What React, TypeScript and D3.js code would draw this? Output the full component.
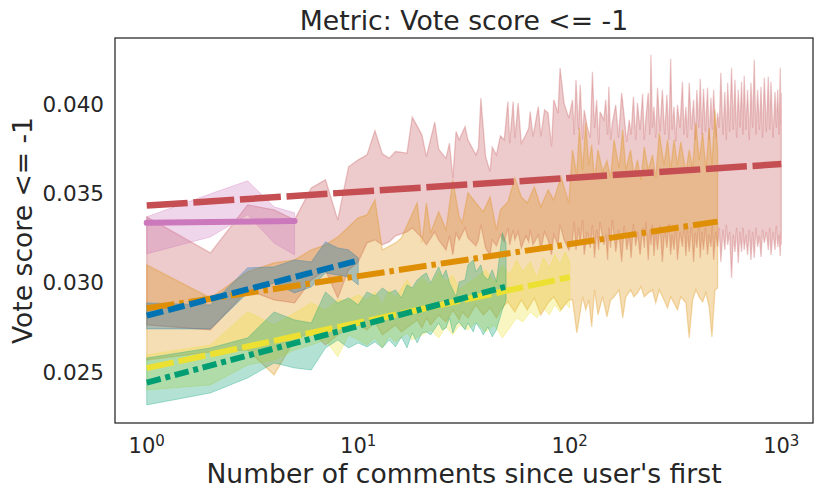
import React from "react";
import * as d3 from "d3";

// ---------- data ----------
const redX = [1,2,3,4,5,6,7,8,9,10,
  11,12,13,14,15,17,18,20,21,23,24,26,27,28,29,30,32,33,36,37,38,40,42,43,45,47,49,51,52,54,55,57,59,62,64,65,67,71,73,76,79,82,84,88,90,94,99,
  103,105,107,110,112,115,117,121,125,128,
  131,134,137,139,145,148,151,153,156,159,
  165,170,176,181,186,191,195,200,205,209,
  215,221,225,229,235,239,242,246,250,255,
  260,267,274,281,288,294,300,305,311,317,
  323,332,341,347,354,360,367,376,385,392,
  399,407,414,421,429,438,448,456,465,472,
  479,490,500,509,518,530,541,550,558,570,
  582,593,604,615,626,637,649,658,668,680,
  693,706,719,732,745,759,773,788,802,816,
  831,850,868,881,894,914,934,948,962,975,
  989,995,1000];
const redLo = [0.027528,0.027248,0.029495,0.028933,0.028765,0.030057,0.030618,0.029045,0.030618,0.031068,
  0.032135,0.032304,0.032023,0.032191,0.032528,0.032753,0.032978,0.032416,0.032023,0.032753,0.032304,0.031742,0.032528,0.031461,0.032697,0.032304,0.032978,0.032416,0.031967,0.032304,0.033146,0.031854,0.031461,0.032304,0.031967,0.032585,0.032191,0.032978,0.032023,0.032866,0.032304,0.032753,0.031854,0.032528,0.032191,0.032866,0.032023,0.032585,0.031742,0.032753,0.032304,0.031461,0.032585,0.032023,0.033146,0.032304,0.031742,
  0.032304,0.033315,0.031742,0.032978,0.032023,0.033427,0.031461,0.032754,0.031855,0.033146,
  0.031293,0.032866,0.031742,0.033315,0.032023,0.032585,0.031180,0.032978,0.031855,0.033427,
  0.031630,0.032866,0.031068,0.033090,0.031742,0.032585,0.031293,0.033202,0.031967,0.032754,
  0.031461,0.032978,0.031855,0.033315,0.031180,0.032866,0.032023,0.033146,0.031405,0.032754,
  0.031742,0.033090,0.031068,0.032866,0.031855,0.033202,0.031461,0.032585,0.031742,0.032978,
  0.031180,0.032754,0.031911,0.033146,0.031405,0.032866,0.031630,0.033034,0.031068,0.032697,
  0.031855,0.033146,0.031293,0.032754,0.031742,0.032978,0.031461,0.032585,0.031911,0.033090,
  0.031180,0.032754,0.031911,0.032978,0.031068,0.032866,0.031742,0.033146,0.032023,0.032754,
  0.030169,0.032585,0.031630,0.032978,0.031011,0.032754,0.031630,0.032978,0.031742,0.032585,
  0.031461,0.032866,0.031180,0.032754,0.031293,0.032978,0.031911,0.032529,0.031349,0.032866,
  0.032135,0.032754,0.031742,0.032978,0.031461,0.032754,0.031742,0.033090,0.031911,0.032585,
  0.031405,0.032754,0.032023];
const redHi = [0.033596,0.031573,0.034270,0.033989,0.033427,0.035225,0.035675,0.033427,0.036405,0.036798,
  0.037079,0.038445,0.037135,0.036894,0.037266,0.037176,0.039197,0.038203,0.036984,0.038916,0.037399,0.036894,0.037736,0.035770,0.038388,0.037922,0.038669,0.037922,0.037079,0.037455,0.040265,0.036984,0.036141,0.037512,0.037079,0.038147,0.037922,0.040074,0.037736,0.040074,0.038017,0.039984,0.037736,0.038203,0.038579,0.039512,0.038107,0.039793,0.038107,0.039607,0.039422,0.037546,0.040169,0.039422,0.041950,0.039984,0.039141,
  0.040169,0.038203,0.041293,0.038484,0.041012,0.037922,0.039607,0.038652,0.038035,0.041742,
  0.038596,0.040169,0.037641,0.039495,0.039045,0.040169,0.038203,0.040900,0.037922,0.038876,
  0.039888,0.038035,0.040562,0.039214,0.037810,0.039045,0.038203,0.040338,0.037922,0.040000,
  0.038484,0.040506,0.037922,0.039158,0.040562,0.038203,0.042697,0.038596,0.039776,0.038035,
  0.040844,0.038372,0.040731,0.038203,0.040450,0.037922,0.042472,0.038484,0.039776,0.037810,
  0.039888,0.038596,0.041181,0.038203,0.039776,0.038035,0.041124,0.038484,0.040169,0.037922,
  0.040731,0.038596,0.041348,0.038203,0.040787,0.038372,0.040844,0.037922,0.040282,0.038484,
  0.040731,0.038035,0.039438,0.038596,0.041685,0.038203,0.040619,0.037922,0.041124,0.038372,
  0.041967,0.038484,0.041293,0.038035,0.040731,0.038596,0.041181,0.038203,0.041517,0.038484,
  0.040731,0.037922,0.041124,0.038596,0.042416,0.038203,0.040731,0.038484,0.040900,0.038035,
  0.041405,0.038372,0.041461,0.038484,0.041181,0.038035,0.040619,0.038596,0.040731,0.038203,
  0.041967,0.038764,0.040562];

const orangeX = [1,2,3,4,5,6,7,8,9,10,
  11,12,13,15,16,19,20,21,22,24,26,28,30,31,33,36,39,42,45,47,51,55,59,63,68,73,79,84,91,99,
  103,108,111,115,119,123,127,131,136,143,150,156,162,171,178,184,194,201,209,217,225,235,246,255,265,279,290,300,311,323,335,354,367,381,395,409,425,440,456,470,486,500];
const orangeLo = [0.025562,0.026011,0.026124,0.024719,0.026686,0.027136,0.026405,0.026967,0.027360,0.027528,
  0.027248,0.027697,0.026967,0.027528,0.027136,0.027809,0.027360,0.027921,0.027528,0.028090,0.027697,0.028371,0.027809,0.028259,0.027921,0.028652,0.028090,0.028484,0.027921,0.028371,0.028821,0.028259,0.028933,0.028371,0.029045,0.028090,0.028765,0.029102,0.028371,0.028933,
  0.028933,0.027079,0.027921,0.029102,0.028371,0.028933,0.027416,0.029495,0.028090,0.029102,0.027978,0.028933,0.029102,0.029495,0.027921,0.029102,0.029495,0.029102,0.029326,0.029664,0.029102,0.029326,0.029495,0.028765,0.029495,0.028933,0.028484,0.029102,0.028765,0.028371,0.029102,0.028765,0.026798,0.028933,0.029495,0.029102,0.028821,0.029326,0.028540,0.026855,0.029495,0.029607];
const orangeHi = [0.030899,0.029045,0.030506,0.031012,0.031180,0.031742,0.032023,0.032472,0.033034,0.033539,
  0.033708,0.034551,0.031742,0.032135,0.032416,0.034383,0.032135,0.034383,0.032697,0.033877,0.032866,0.035675,0.033596,0.033259,0.034944,0.034383,0.033877,0.034720,0.032866,0.033989,0.034439,0.035787,0.034720,0.034383,0.035281,0.034158,0.035113,0.034551,0.035843,0.034383,
  0.037360,0.035956,0.038583,0.036236,0.038877,0.036517,0.037641,0.035675,0.037360,0.036124,0.036753,0.035787,0.037922,0.036349,0.038484,0.036236,0.037360,0.035956,0.036798,0.035675,0.037529,0.036236,0.037079,0.035787,0.038315,0.036517,0.037922,0.036236,0.037922,0.036517,0.037809,0.036124,0.037360,0.036349,0.038877,0.036798,0.038315,0.036236,0.038583,0.036517,0.039607,0.037360];

const yellowX = [1,2,3,4,5,6,7,8,9,10,11,12,13,14,15,17,18,20,22,24,26,28,30,33,36,40,44,48,52,56,60,65,70,75,80,85,90,95,100];
const yellowLo = [0.023877,0.024158,0.025281,0.025562,0.026124,0.026405,0.026686,0.025731,0.026967,0.026686,
  0.026405,0.026798,0.026236,0.026911,0.026574,0.027079,0.026686,0.026967,0.027248,0.026798,
  0.027416,0.026967,0.027528,0.027248,0.027697,0.027136,0.027528,0.026798,0.027360,0.027921,
  0.027697,0.028259,0.027921,0.028484,0.028090,0.028652,0.028259,0.028765,0.028484];
const yellowHi = [0.025843,0.026405,0.028259,0.027528,0.028203,0.028765,0.028371,0.028933,0.028933,0.029214,
  0.028933,0.029383,0.028652,0.029495,0.029045,0.030057,0.029495,0.030169,0.029776,0.030506,
  0.029945,0.030338,0.029495,0.029888,0.030169,0.030618,0.029945,0.030899,0.030338,0.031180,
  0.030506,0.031068,0.030169,0.031293,0.030731,0.031461,0.030899,0.031630,0.031068];

const greenX = [1,2,3,4,5,6,7,8,9,10,11,12,13,14,15,16,17,18,19,20,21,22,24,25,26,27,28,29,30,32,33,35,36,38,39,41,43,45,48,50];
const greenLo = [0.023034,0.023708,0.024551,0.025393,0.025112,0.025000,0.026236,0.026686,0.026236,0.026517,
  0.026293,0.026574,0.026236,0.026686,0.026293,0.026855,0.026236,0.027079,0.026517,0.027079,0.027136,0.026967,
  0.027640,0.027248,0.027360,0.027921,0.027079,0.027528,0.027697,
  0.027248,0.027640,0.027136,0.027640,0.027248,0.026967,0.027416,0.026855,0.027248,0.028371,0.028933];
const greenHi = [0.025674,0.026236,0.026798,0.028259,0.027809,0.027640,0.029383,0.028764,0.029045,0.028652,
  0.029383,0.029158,0.029607,0.029326,0.029495,0.029045,0.029776,0.029607,0.030057,0.030282,0.030449,0.029888,
  0.030787,0.030226,0.030618,0.029888,0.029495,0.029102,0.029945,
  0.030057,0.030899,0.031180,0.030506,0.030899,0.030338,0.030057,0.030618,0.029945,0.032697,0.032135];

const blueX = [1,2,3,4,5,6,7,8,9,10];
const blueLo = [0.027304,0.027304,0.029326,0.029888,0.029326,0.029664,0.030450,0.030338,0.030225,0.029776];
const blueHi = [0.028765,0.028652,0.030731,0.030787,0.031180,0.031068,0.032191,0.031854,0.031742,0.031293];

const pinkX = [1,2,3,4,5];
const pinkLo = [0.031517,0.032472,0.033708,0.032135,0.031461];
const pinkHi = [0.033596,0.034888,0.035619,0.034158,0.033820];

// fitted regression lines (start / end)
const redFitX = [1, 1000];
const redFitY = [0.03423, 0.03656];
const orangeFitX = [1, 500];
const orangeFitY = [0.02846, 0.03333];
const yellowFitX = [1, 100];
const yellowFitY = [0.02510, 0.03021];
const greenFitX = [1, 50];
const greenFitY = [0.02429, 0.02968];
const blueFitX = [1, 10];
const blueFitY = [0.02805, 0.03115];
const pinkFitX = [1, 5];
const pinkFitY = [0.03326, 0.03337];

const yTicks = [0.025, 0.03, 0.035, 0.04];
const xTicks = [1, 10, 100, 1000];
const xTickExp = ["0", "1", "2", "3"];

const title = "Metric: Vote score <= -1";
const xLabel = "Number of comments since user's first";
const yLabel = "Vote score <= -1";

// ---------- chart ----------
const W = 822, H = 499;
const L = 115, R = 813, T = 38, B = 423;
const FONT = "DejaVu Sans, sans-serif";
const TXT = "#262626";

type S = { key: string; color: string; xs: number[]; lo: number[]; hi: number[]; fx: number[]; fy: number[]; dash: string; w: number; cap: string; edge: number };

const series: S[] = [
  { key: "red", color: "#c44e52", xs: redX, lo: redLo, hi: redHi, fx: redFitX, fy: redFitY, dash: "41 5.7", w: 6.5, cap: "butt", edge: 1.3 },
  { key: "orange", color: "#de8f05", xs: orangeX, lo: orangeLo, hi: orangeHi, fx: orangeFitX, fy: orangeFitY, dash: "28 5 4.5 5", w: 6, cap: "butt", edge: 1.3 },
  { key: "yellow", color: "#ece133", xs: yellowX, lo: yellowLo, hi: yellowHi, fx: yellowFitX, fy: yellowFitY, dash: "27.5 5", w: 6, cap: "butt", edge: 1 },
  { key: "green", color: "#029e73", xs: greenX, lo: greenLo, hi: greenHi, fx: greenFitX, fy: greenFitY, dash: "14.5 4.7 5 4.7", w: 6, cap: "butt", edge: 1 },
  { key: "blue", color: "#0173b2", xs: blueX, lo: blueLo, hi: blueHi, fx: blueFitX, fy: blueFitY, dash: "17 5", w: 6, cap: "butt", edge: 1 },
  { key: "pink", color: "#cc78bc", xs: pinkX, lo: pinkLo, hi: pinkHi, fx: pinkFitX, fy: pinkFitY, dash: "none", w: 6, cap: "round", edge: 1 },
];

export default function App() {
  const x = d3.scaleLog().domain([Math.pow(10, -0.15), Math.pow(10, 3.15)]).range([L, R]);
  const y = d3.scaleLinear().domain([0.02202, 0.04364]).range([B, T]);
  const fmt = d3.format(".3f");

  return (
    <svg width={W} height={H} style={{ position: "absolute", left: 0, top: 0, background: "#fff" }} fontFamily={FONT}>
      <rect x={0} y={0} width={W} height={H} fill="#fff" />
      <defs>
        <clipPath id="plot"><rect x={L} y={T} width={R - L} height={B - T} /></clipPath>
      </defs>
      <g clipPath="url(#plot)">
        {series.map((s) => {
          const area = d3.area<number>()
            .x((_, i) => x(s.xs[i]))
            .y0((_, i) => y(s.lo[i]))
            .y1((_, i) => y(s.hi[i]));
          return (
            <path key={"b" + s.key} d={area(s.xs) || ""} fill={s.color} fillOpacity={0.3}
              stroke={s.color} strokeOpacity={0.3} strokeWidth={s.edge} strokeLinejoin="miter" />
          );
        })}
        {series.map((s) => {
          const line = d3.line<number>().x((d) => x(d)).y((_, i) => y(s.fy[i]));
          return (
            <path key={"l" + s.key} d={line(s.fx) || ""} fill="none" stroke={s.color} strokeWidth={s.w}
              strokeDasharray={s.dash} strokeLinecap={s.cap as any} />
          );
        })}
      </g>
      <rect x={L} y={T} width={R - L} height={B - T} fill="none" stroke={TXT} strokeWidth={1.25} />
      {yTicks.map((t) => (
        <text key={"yt" + t} x={104} y={y(t) + 9.6} textAnchor="end" fontSize={21.5} fill={TXT}>{fmt(t)}</text>
      ))}
      {xTicks.map((t, i) => (
        <text key={"xt" + t} x={x(t)} y={453} textAnchor="middle" fontSize={21} fill={TXT}>
          <tspan>10</tspan>
          <tspan dy={-7} fontSize={15}>{xTickExp[i]}</tspan>
        </text>
      ))}
      <text x={(L + R) / 2} y={30} textAnchor="middle" fontSize={26.7} fill={TXT}>{title}</text>
      <text x={(L + R) / 2} y={483} textAnchor="middle" fontSize={26.6} fill={TXT}>{xLabel}</text>
      <text transform={`translate(32,${(T + B) / 2}) rotate(-90)`} textAnchor="middle" fontSize={26.6} fill={TXT}>{yLabel}</text>
    </svg>
  );
}
